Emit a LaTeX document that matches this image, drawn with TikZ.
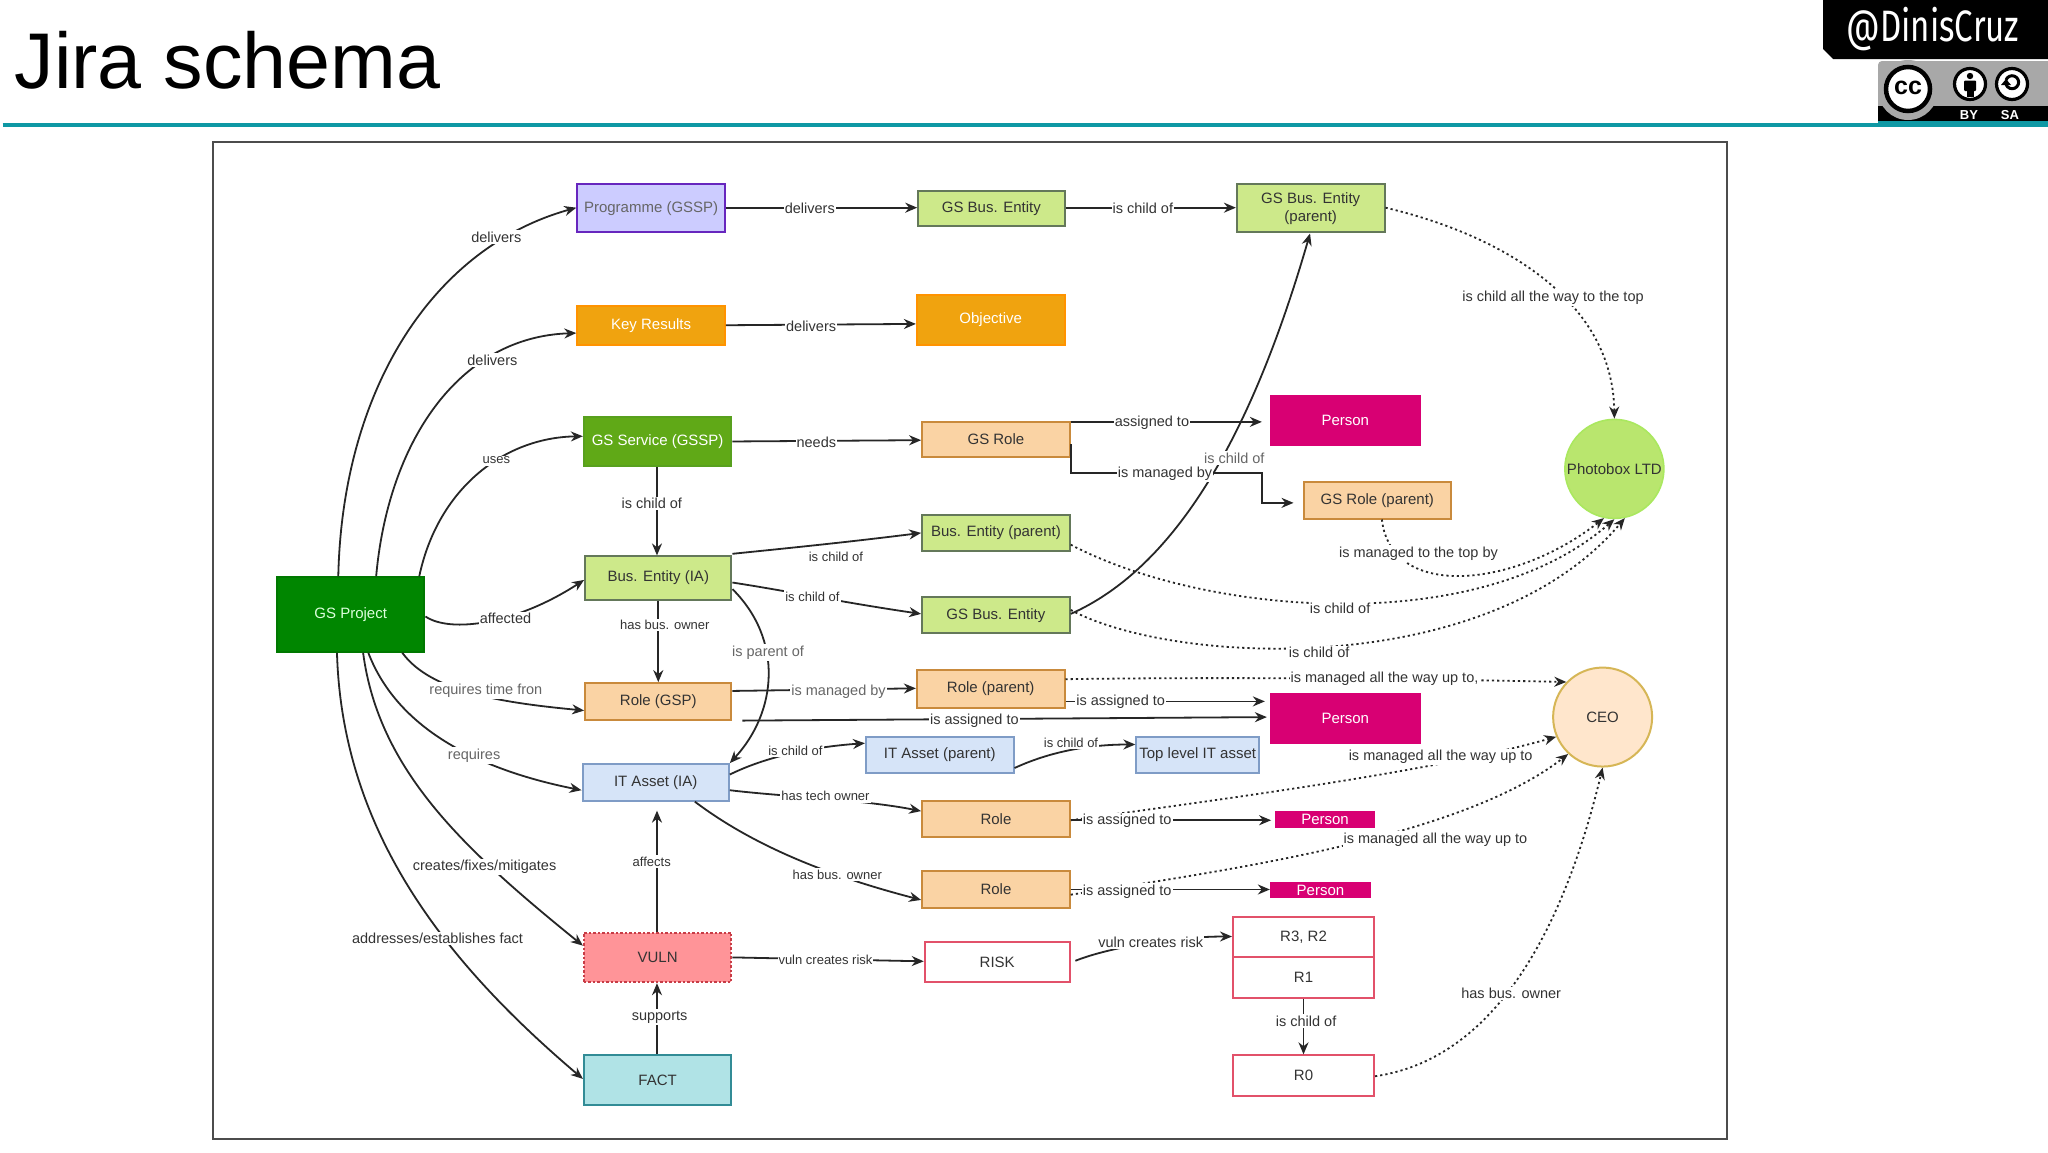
\documentclass[tikz,border=0pt]{standalone}
\usepackage{fontspec}
\setmainfont{Liberation Sans}
\newfontfamily\badgefont{Fira Sans}
\usetikzlibrary{arrows.meta,calc}
\definecolor{lnk}{HTML}{262626}
\definecolor{txt}{HTML}{333333}
\definecolor{txg}{HTML}{666666}
\definecolor{teal1}{HTML}{0E98A4}
\definecolor{rolef}{HTML}{FAD3A4}
\definecolor{rolel}{HTML}{C98A3C}
\definecolor{greenf}{HTML}{CDE98A}
\definecolor{greenl}{HTML}{64785A}
\definecolor{bluef}{HTML}{D6E4F8}
\definecolor{bluel}{HTML}{7F9CC6}
\definecolor{pinkf}{HTML}{D80073}
\definecolor{riskl}{HTML}{E2516A}
\tikzset{
 boxbase/.style={rectangle,draw,line width=2pt,inner sep=0pt,align=center,font=\fontsize{15}{18}\selectfont,text=txt},
 progbox/.style={boxbase,fill=blue!20!white,draw=blue!60!purple!85!white,text=txg},
 orgbox/.style={boxbase,fill=orange!75!yellow!95!black,draw=orange!85!yellow,text=white,fill={rgb,255:red,240;green,163;blue,15}},
 srvbox/.style={boxbase,fill={rgb,255:red,96;green,169;blue,23},draw={rgb,255:red,88;green,160;blue,30},text=white},
 prjbox/.style={boxbase,fill={rgb,255:red,0;green,134;blue,0},draw={rgb,255:red,0;green,120;blue,0},text={rgb,255:red,220;green,255;blue,220}},
 grnbox/.style={boxbase,fill=greenf,draw=greenl},
 rolbox/.style={boxbase,fill=rolef,draw=rolel},
 bluebox/.style={boxbase,fill=bluef,draw=bluel},
 perbox/.style={boxbase,fill=pinkf,draw=pinkf,text=white},
 vulbox/.style={boxbase,fill={rgb,255:red,255;green,148;blue,152},draw={rgb,255:red,200;green,60;blue,70},dash pattern=on 2.5pt off 2pt},
 rskbox/.style={boxbase,fill=white,draw=riskl},
 facbox/.style={boxbase,fill={rgb,255:red,176;green,227;blue,230},draw={rgb,255:red,50;green,140;blue,150}},
 lab/.style={fill=white,inner xsep=1pt,inner ysep=1.5pt,font=\fontsize{14.5}{17}\selectfont,text=txt,yshift=-0.8pt},
 labg/.style={lab,text=txg},
 sml/.style={font=\fontsize{13}{16}\selectfont},
 conn/.style={draw=lnk,line width=1.8pt,-{Stealth[length=12pt,width=10pt]}},
 dots/.style={draw=lnk,line width=1.8pt,dash pattern=on 2.2pt off 3pt,-{Stealth[length=12pt,width=10pt]}},
}
\newcommand\bx[7][]{%
 \node[#2,minimum width={(#5-#3)*1.306122pt},minimum height={(#6-#4)*1.306122pt},#1] (#7) at ({(#3+#5)/2},{(#4+#6)/2})}
\newcommand\lb[5][lab]{\node[#1] (#2) at (#3,#4) {#5};}
\begin{document}
\begin{tikzpicture}[x=1.306122pt,y=-1.306122pt]
\useasboundingbox (0,0) rectangle (1568,882);
\fill[white] (0,0) rectangle (1568,882);
% title
\node[anchor=base west,inner sep=0pt,font=\fontsize{79}{90}\selectfont,text=black] (title) at (11,68) {Jira schema};
\coordinate (ruleL) at (2,96);
\coordinate (ruleR) at (1568,96);
\draw[teal1,line width=4pt] (ruleL) -- (ruleR);
% frame
\draw[draw=black!70,line width=1.8pt] (163,109) rectangle (1322,872);
% boxes
\bx{progbox}{442}{141}{555}{178}{prog} {Programme (GSSP)};
\bx{grnbox}{703}{146}{815}{173}{gsbe} {GS Bus. Entity};
\bx{grnbox}{947}{141}{1060}{178}{gsbep} {GS Bus. Entity\\(parent)};
\bx{orgbox}{442}{234}{555}{264}{key} {Key Results};
\bx{orgbox}{702}{226}{815}{264}{obj} {Objective};
\bx{srvbox}{447}{319}{560}{357}{srv} {GS Service (GSSP)};
\bx{rolbox}{706}{323}{819}{350}{grole} {GS Role};
\bx{perbox}{973}{303}{1087}{341}{perA} {Person};
\bx{rolbox}{998}{369}{1111}{397}{grolep} {GS Role (parent)};
\node[circle,draw={rgb,255:red,170;green,232;blue,95},fill={rgb,255:red,185;green,230;blue,110},line width=1.6pt,inner sep=0pt,minimum size=99pt,font=\fontsize{15}{18}\selectfont,text=txt] (photo) at (1236,359) {Photobox LTD};
\bx{grnbox}{706}{394}{819}{422}{bep} {Bus. Entity (parent)};
\bx{grnbox}{448}{426}{560}{459}{beia} {Bus. Entity (IA)};
\bx{grnbox}{706}{457}{819}{485}{gsbe2} {GS Bus. Entity};
\bx{prjbox}{212}{442}{325}{499}{proj} {GS Project};
\bx{rolbox}{448}{523}{560}{551}{rgsp} {Role (GSP)};
\bx{rolbox}{702}{513}{815}{542}{rolep} {Role (parent)};
\bx{perbox}{973}{531}{1087}{569}{perB} {Person};
\node[circle,draw={rgb,255:red,214;green,182;blue,86},fill={rgb,255:red,255;green,230;blue,204},line width=2pt,inner sep=0pt,minimum size=99pt,font=\fontsize{15}{18}\selectfont,text=txt] (ceo) at (1227,549) {CEO};
\bx{bluebox}{446}{585}{558}{613}{itia} {IT Asset (IA)};
\bx{bluebox}{663}{564}{776}{592}{itp} {IT Asset (parent)};
\bx{bluebox}{870}{564}{964}{592}{ittop} {Top level IT asset};
\bx{rolbox}{706}{613}{819}{641}{rolA} {Role};
\bx{perbox}{977}{622}{1052}{633}{perC} {Person};
\bx{rolbox}{706}{667}{819}{695}{rolB} {Role};
\bx{perbox}{973}{676}{1049}{687}{perD} {Person};
\bx{vulbox}{447}{714}{560}{752}{vuln} {VULN};
\bx{rskbox}{708}{721}{819}{752}{risk} {RISK};
\bx{rskbox}{944}{702}{1052}{733}{rtt} {R3, R2};
\bx{rskbox}{944}{733}{1052}{764}{rone} {R1};
\bx{rskbox}{944}{808}{1052}{839}{rzero} {R0};
\bx{facbox}{447}{808}{560}{846}{fact} {FACT};
% dotted connectors
\path[dots] (gsbep.east |- 0,159) .. controls (1150,180) and (1235,230) .. (photo.north);
\path[dots] (grolep.south -| 1058,0) .. controls (1065,460) and (1160,450) .. (photo.258);
\path[dots] (bep.east |- 0,417) .. controls (920,470) and (1130,490) .. (photo.270);
\path[dots] (gsbe2.east |- 0,467) .. controls (900,510) and (1140,520) .. (photo.282);
\path[dots] (rolep.east |- 0,520) .. controls (950,518) and (1100,520) .. (ceo.136);
\path[dots] (rolA.east |- 0,628) .. controls (950,610) and (1100,590) .. (ceo.203);
\path[dots] (rolB.east |- 0,685) .. controls (950,665) and (1120,640) .. (ceo.227);
\path[dots] (rzero.east |- 0,824) .. controls (1150,810) and (1200,700) .. (ceo.south);
% solid connectors
\path[conn] (259,0 |- proj.north) .. controls (262,300) and (330,190) .. (prog.west |- 0,159);
\path[conn] (288,0 |- proj.north) .. controls (297,340) and (350,258) .. (key.west |- 0,255);
\path[conn] (321,0 |- proj.north) .. controls (335,375) and (385,335) .. (srv.west |- 0,334);
\path[conn] (proj.east |- 0,472) .. controls (345,485) and (395,478) .. (beia.west |- 0,444);
\path[conn] (308,0 |- proj.south) .. controls (330,530) and (385,538) .. (rgsp.west |- 0,544);
\path[conn] (282,0 |- proj.south) .. controls (305,560) and (370,590) .. (itia.west |- 0,605);
\path[conn] (278,0 |- proj.south) .. controls (290,590) and (355,650) .. (vuln.west |- 0,724);
\path[conn] (258,0 |- proj.south) .. controls (262,640) and (345,740) .. (fact.west |- 0,826);
\path[conn] (prog.east |- 0,159) -- (gsbe.west |- 0,159);
\path[conn] (gsbe.east |- 0,159) -- (gsbep.west |- 0,159);
\path[conn] (key.east |- 0,249) -- (obj.west |- 0,248);
\path[conn] (srv.east |- 0,338) -- (grole.west |- 0,337);
\path[conn,shorten >=8pt] (grole.east |- 0,323) -- (perA.west |- 0,323);
\path[conn,shorten >=9pt] (grole.east |- 0,340) |- (966,362) |- (grolep.west |- 0,385);
\path[conn] (gsbe2.east |- 0,470) .. controls (910,430) and (965,310) .. (gsbep.south -| 1003,0);
\path[conn] (beia.east |- 0,424) .. controls (600,420) and (650,415) .. (bep.west |- 0,408);
\path[conn] (beia.east |- 0,446) .. controls (600,452) and (650,462) .. (gsbe2.west |- 0,470);
\path[conn] (503,0 |- srv.south) -- (503,0 |- beia.north);
\path[conn] (504,0 |- beia.south) -- (504,0 |- rgsp.north);
\path[conn] (beia.east |- 0,451) .. controls (600,490) and (595,545) .. (itia.north east);
\path[conn] (rgsp.east |- 0,529) -- (rolep.west |- 0,527);
\path[conn,shorten <=10pt,shorten >=3pt] (rgsp.south east) -- (perB.west |- 0,549);
\path[conn,shorten >=5pt] (rolep.east |- 0,537) -- (perB.west |- 0,537);
\path[conn] (itia.east |- 0,593) .. controls (585,580) and (620,572) .. (itp.west |- 0,569);
\path[conn] (itp.east |- 0,588) .. controls (805,575) and (835,570) .. (ittop.west |- 0,570);
\path[conn] (itia.east |- 0,605) .. controls (600,610) and (660,612) .. (rolA.west |- 0,621);
\path[conn] (532,0 |- itia.south) .. controls (580,650) and (640,672) .. (rolB.west |- 0,689);
\path[conn,shorten >=9pt] (503,0 |- vuln.north) -- (503,0 |- itia.south);
\path[conn] (503,0 |- fact.north) -- (503,0 |- vuln.south);
\path[conn] (vuln.east |- 0,733) -- (risk.west |- 0,736);
\path[conn,shorten <=5pt] (risk.east |- 0,737) .. controls (850,725) and (900,717) .. (rtt.west |- 0,717);
\path[conn] (998,0 |- rone.south) -- (998,0 |- rzero.north);
\path[conn,shorten >=4pt] (rolA.east |- 0,628) -- (perC.west |- 0,628);
\path[conn] (rolB.east |- 0,681) -- (perD.west |- 0,681);
% labels
\lb{la1}{380}{181}{delivers}
\lb{la2}{377}{275}{delivers}
\lb[lab,sml]{la3}{380}{352}{uses}
\lb{la4}{387}{473}{affected}
\lb[labg]{la5}{372}{528}{requires time fron}
\lb[labg]{la6}{363}{578}{requires}
\lb{la7}{371}{663}{creates/fixes/mitigates}
\lb{la8}{335}{718}{addresses/establishes fact}
\lb{lb1}{620}{159}{delivers}
\lb{lb2}{875}{159}{is child of}
\lb{lb3}{621}{249}{delivers}
\lb{lb4}{625}{338}{needs}
\lb{lb5}{882}{323}{assigned to}
\lb{lb6}{892}{362}{is managed by}
\lb[labg]{lb7}{945}{350}{is child of}
\lb[lab,sml]{lb8}{640}{426}{is child of}
\lb[lab,sml]{lb9}{622}{456}{is child of}
\lb{lc1}{499}{385}{is child of}
\lb[lab,sml]{lc2}{509}{478}{has bus. owner}
\lb[labg]{lc3}{588}{499}{is parent of}
\lb[labg]{lc4}{642}{529}{is managed by}
\lb{lc5}{746}{551}{is assigned to}
\lb{lc6}{858}{537}{is assigned to}
\lb{lc7}{1060}{519}{is managed all the way up to,}
\lb[lab,sml]{lc8}{609}{574}{is child of}
\lb[lab,sml]{lc9}{820}{568}{is child of}
\lb[lab,sml]{ld1}{632}{609}{has tech owner}
\lb[lab,sml]{ld2}{641}{669}{has bus. owner}
\lb[lab,sml]{ld3}{499}{659}{affects}
\lb{ld4}{505}{778}{supports}
\lb[lab,sml]{ld5}{632}{734}{vuln creates risk}
\lb{ld6}{881}{721}{vuln creates risk}
\lb{ld7}{1000}{781}{is child of}
\lb{ld8}{1157}{760}{has bus. owner}
\lb{ld9}{863}{628}{is assigned to}
\lb{le1}{863}{682}{is assigned to}
\lb{le2}{1103}{579}{is managed all the way up to}
\lb{le3}{1099}{642}{is managed all the way up to}
\lb{le4}{1189}{227}{is child all the way to the top}
\lb{le5}{1086}{423}{is managed to the top by}
\lb{le6}{1026}{465}{is child of}
\lb{le7}{1010}{499}{is child of}
% badge (pixel coordinates)
\begin{scope}[x=1pt,y=-1pt]
\fill[black] (1823,0) -- (1823,49) -- (1833,59) -- (2048,59) -- (2048,0) -- cycle;
\node[inner sep=0pt,text=white,font=\badgefont\fontsize{44}{44}\selectfont] (handle) at (1933,29) {\scalebox{0.75}[1]{@DinisCruz}};
\fill[black!34,rounded corners=4pt] (1878,122) -- (1878,61) -- (2060,61) -- (2060,122) -- cycle;
\fill[black] (1878,106) rectangle (2048,122);
\fill[black!34] (1908,90) circle (30pt);
\node[circle,draw=black,line width=4.5pt,fill=white,minimum size=44pt,inner sep=0pt,font=\bfseries\fontsize{25}{25}\selectfont] (cc) at (1908,89) {\raisebox{1.5pt}{cc}};
\node[circle,draw=black,line width=3.2pt,fill=white,minimum size=31pt,inner sep=0pt] (by) at (1970,84) {};
\fill[black] (1970,76) circle (3.2pt);
\fill[black,rounded corners=1pt] (1964,80.5) rectangle (1976,91);
\fill[black] (1966.5,88) rectangle (1973.5,97);
\node[circle,draw=black,line width=3.2pt,fill=white,minimum size=31pt,inner sep=0pt] (sa) at (2012,84) {};
\draw[black,line width=3pt] (2006,80) arc[start angle=160,end angle=-160,radius=6.5pt];
\fill[black] (2001,85) -- (2011,85) -- (2006,79) -- cycle;
\node[inner sep=0pt,text=white,font=\bfseries\fontsize{13}{13}\selectfont] (bytxt) at (1969,115) {BY};
\node[inner sep=0pt,text=white,font=\bfseries\fontsize{13}{13}\selectfont] (satxt) at (2010,115) {SA};
\end{scope}
\draw[teal1,line width=4pt] (1438,94.5) -- (ruleR |- 0,94.5);
\end{tikzpicture}
\end{document}
